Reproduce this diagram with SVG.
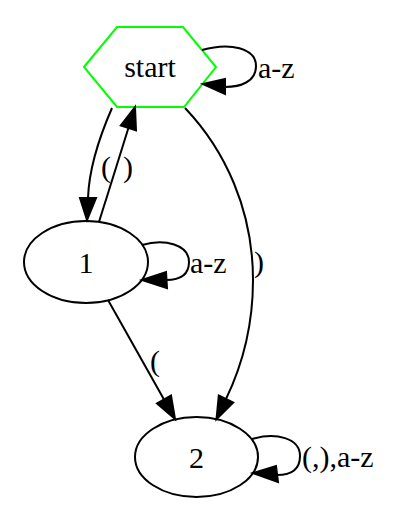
<svg xmlns="http://www.w3.org/2000/svg" width="402" height="518" viewBox="0 0 402 518">
<style>
text{font-family:"Liberation Serif","Times New Roman",serif;font-size:30px;fill:#000}
.n{fill:none;stroke:#000;stroke-width:2}
.e{fill:none;stroke:#000;stroke-width:2}
.h{fill:#000;stroke:#000;stroke-width:2}
</style>
<rect width="402" height="518" fill="#fff"/>
<g id="node-start">
<polygon points="84,67 117,27 183,27 216,67 184,107 117,107" fill="none" stroke="#00ff00" stroke-width="2"/>
<text x="150" y="77" text-anchor="middle">start</text>
</g>
<g id="node-1">
<ellipse class="n" cx="86" cy="262" rx="62" ry="41"/>
<text x="86" y="273" text-anchor="middle">1</text>
</g>
<g id="node-2">
<ellipse class="n" cx="196.5" cy="457" rx="61.5" ry="40"/>
<text x="196.5" y="468" text-anchor="middle">2</text>
</g>
<g id="connectors">
<path class="e" d="M202,50 C230,42 256,48 256,66 C256,82 240,87 225,87"/>
<polygon class="h" points="203,84 225,79 225,94"/>
<text x="258" y="78">a-z</text>
<path class="e" d="M112,108 C98,140 89,170 88,198"/>
<polygon class="h" points="87,220 80,198 96,198"/>
<text x="101" y="177">(</text>
<path class="e" d="M99,222 L128.4,128"/>
<polygon class="h" points="135,107 120.8,125.6 136,130.4"/>
<text x="123" y="177">)</text>
<path class="e" d="M185,108 C225,150 253,210 253,280 C253,330 240,370 226,399"/>
<polygon class="h" points="216.5,419 218.8,395.5 233.2,402.5"/>
<text x="254" y="272">)</text>
<path class="e" d="M142,245 C165,238 189,245 189,262 C189,276 178,280 166,280"/>
<polygon class="h" points="142,280 166,272 167,288"/>
<text x="190" y="273">a-z</text>
<path class="e" d="M108,300 L164,399.5"/>
<polygon class="h" points="175,419 171,395.5 157,403.5"/>
<text x="150" y="371">(</text>
<path class="e" d="M252,439 C276,432 300,438 300,456 C300,470 290,475 277,475"/>
<polygon class="h" points="253,473 276,466 278,482"/>
<text x="302" y="467">(,),a-z</text>
</g>
</svg>
